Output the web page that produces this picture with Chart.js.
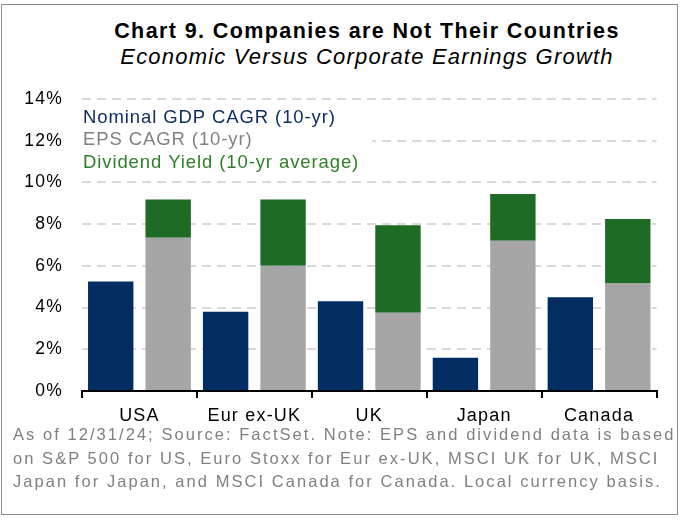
<!DOCTYPE html>
<html>
<head>
<meta charset="utf-8">
<script src="https://cdn.jsdelivr.net/npm/chart.js@4/dist/chart.umd.min.js"></script>
<style>
  html, body { margin: 0; padding: 0; background: #fff; }
  #wrap { position: relative; width: 684px; height: 522px; overflow: hidden; font-family: "Liberation Sans", Arial, sans-serif; }
  #frame { position: absolute; left: 1px; top: 4px; width: 675px; height: 509px; border: 1.5px solid #8c8c8c; }
  .head { position: absolute; left: 0; width: 734px; text-align: center; color: #000; white-space: nowrap; }
  #title { top: 21px; font-weight: bold; font-size: 21.5px; line-height: 21.5px; letter-spacing: 1.4px; }
  #subtitle { top: 46px; font-style: italic; font-size: 22px; line-height: 22px; letter-spacing: 1.2px; }
  #note { position: absolute; left: 13px; top: 423px; font-size: 16.5px; line-height: 23.7px; color: #808080; letter-spacing: 2.05px; white-space: nowrap; }
  canvas { position: absolute; left: 0; top: 0; }
</style>
</head>
<body>
<div id="wrap">
  <div id="frame"></div>
  <div id="title" class="head">Chart 9. Companies are Not Their Countries</div>
  <div id="subtitle" class="head">Economic Versus Corporate Earnings Growth</div>
  <canvas id="chart" width="684" height="522"></canvas>
  <div id="note">As of 12/31/24; Source: FactSet. Note: EPS and dividend data is based<br>on S&amp;P 500 for US, Euro Stoxx for Eur ex-UK, MSCI UK for UK, MSCI<br>Japan for Japan, and MSCI Canada for Canada. Local currency basis.</div>
</div>
<script>
// datos (en %)
const countries = ['USA', 'Eur ex-UK', 'UK', 'Japan', 'Canada'];
const gdpCagr = [5.25, 3.8, 4.3, 1.6, 4.5];
const epsCagr = [7.35, 6.0, 3.75, 7.2, 5.15];
const divYield = [1.83, 3.18, 4.2, 2.25, 3.1];
const yTicks = [0, 2, 4, 6, 8, 10, 12, 14];

const NAVY = '#012d62';
const GREY = '#a6a6a6';
const GREEN = '#1d6b24';
const FONT = '"Liberation Sans", Arial, sans-serif';

// espaciado de letras como en el original
const spacing = {
  id: 'spacing',
  beforeLayout(chart) { chart.ctx.letterSpacing = '1.2px'; },
  beforeDraw(chart) { chart.ctx.letterSpacing = '1.2px'; }
};

// leyenda dentro del área, con fondo blanco que tapa la rejilla
const innerLegend = {
  id: 'innerLegend',
  beforeDatasetsDraw(chart) {
    const ctx = chart.ctx;
    ctx.save();
    ctx.fillStyle = '#fff';
    ctx.fillRect(chart.chartArea.left, 106, 290, 68);
    ctx.restore();
  },
  afterDatasetsDraw(chart) {
    const ctx = chart.ctx;
    const colors = ['#0f2f63', '#808080', '#2f8027'];
    ctx.save();
    ctx.font = '18.5px ' + FONT;
    ctx.letterSpacing = '0.9px';
    ctx.textBaseline = 'alphabetic';
    chart.data.datasets.forEach((ds, i) => {
      ctx.fillStyle = colors[i];
      ctx.fillText(ds.label, 83, 123 + i * 22.3);
    });
    ctx.restore();
  }
};

new Chart(document.getElementById('chart'), {
  type: 'bar',
  data: {
    labels: countries,
    datasets: [
      { label: 'Nominal GDP CAGR (10-yr)', data: gdpCagr, backgroundColor: NAVY, stack: 'gdp' },
      { label: 'EPS CAGR (10-yr)', data: epsCagr, backgroundColor: GREY, stack: 'eps' },
      { label: 'Dividend Yield (10-yr average)', data: divYield, backgroundColor: GREEN, stack: 'eps' }
    ]
  },
  options: {
    responsive: false,
    animation: false,
    layout: { padding: { left: 22, right: 27.5, top: 99, bottom: 91 } },
    datasets: { bar: { categoryPercentage: 1, barPercentage: 0.79 } },
    plugins: { legend: { display: false }, tooltip: { enabled: false } },
    scales: {
      x: {
        stacked: true,
        afterFit: s => { s.height = 40; },
        border: { display: true, color: '#000', width: 2 },
        grid: { display: true, drawOnChartArea: false, drawTicks: true, tickLength: 7, color: '#000', lineWidth: 2, offset: true },
        ticks: { color: '#000', padding: 7, font: { family: FONT, size: 18 } }
      },
      y: {
        stacked: true,
        min: 0,
        max: 14,
        afterFit: s => { s.width = 60; },
        afterBuildTicks: s => { s.ticks = yTicks.map(v => ({ value: v })); },
        border: { display: false, dash: [9, 6] },
        grid: { color: '#d9d9d9', lineWidth: 2, drawTicks: false },
        ticks: {
          color: '#000',
          padding: 19,
          font: { family: FONT, size: 17.5 },
          callback: v => v + '%'
        }
      }
    }
  },
  plugins: [spacing, innerLegend]
});
</script>
</body>
</html>
